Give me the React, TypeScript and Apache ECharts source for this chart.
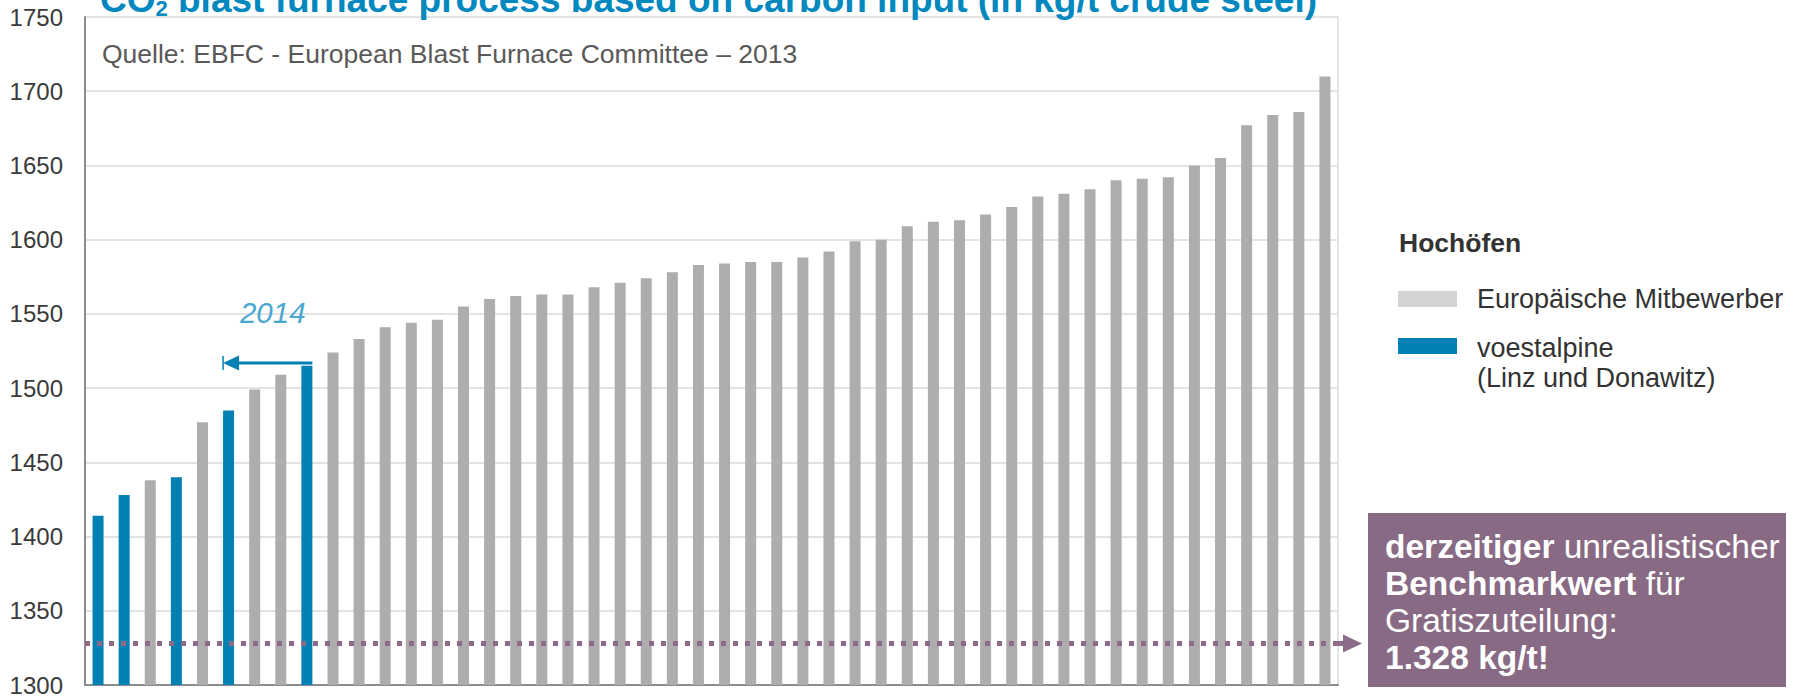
import React, { useEffect, useRef } from 'react';
import * as echarts from 'echarts';

const furnaces = ['1','2','3','4','5','6','7','8','9','10','11','12','13','14','15','16','17','18','19','20','21','22','23','24','25','26','27','28','29','30','31','32','33','34','35','36','37','38','39','40','41','42','43','44','45','46','47','48'];
const co2Values = [1414,1428,1438,1440,1477,1485,1499,1509,1515,1524,1533,1541,1544,1546,1555,1560,1562,1563,1563,1568,1571,1574,1578,1583,1584,1585,1585,1588,1592,1599,1600,1609,1612,1613,1617,1622,1629,1631,1634,1640,1641,1642,1650,1655,1677,1684,1686,1710];
const voestalpineIdx = [0, 1, 3, 5, 8];
const benchmark = 1328;
const arrowFromIdx = 8;
const arrowToIdx = 5;
const arrowLevel = 1517;
const labelLevel = 1551;
const yTicks = { min: 1300, max: 1750, interval: 50 };

const FONT = 'Liberation Sans, Arial, sans-serif';
const GRAY = '#adadad';
const BLUE = '#0080b3';
const PURPLE = '#886a84';
const BAR_W = 11;

export default function App() {
  const ref = useRef<HTMLDivElement>(null);
  useEffect(() => {
    document.body.style.margin = '0';
    const chart = echarts.init(ref.current!, null, { renderer: 'svg' });
    const option: any = {
      animation: false,
      grid: { left: 85, right: 457, top: 17, bottom: 11, show: true, borderColor: '#e3e3e3', borderWidth: 2 },
      xAxis: {
        type: 'category', data: furnaces,
        axisLine: { lineStyle: { color: '#8c8c8c', width: 2 } },
        axisTick: { show: false }, axisLabel: { show: false }, splitLine: { show: false },
      },
      yAxis: {
        type: 'value', min: yTicks.min, max: yTicks.max, interval: yTicks.interval,
        axisLine: { show: true, lineStyle: { color: '#8c8c8c', width: 2 } },
        axisTick: { show: false },
        axisLabel: { fontSize: 24, color: '#3a3a3a', margin: 22, fontFamily: FONT, formatter: (v: number) => String(v) },
        splitLine: { lineStyle: { color: '#e3e3e3', width: 2 } },
      },
      series: [{
        type: 'bar', barWidth: BAR_W,
        data: co2Values.map((v, i) => ({
          value: v,
          itemStyle: { color: voestalpineIdx.includes(i) ? BLUE : GRAY },
        })),
        markLine: {
          silent: true, symbol: 'none', label: { show: false },
          lineStyle: { color: '#8b6b87', width: 5, type: [5, 7] },
          data: [{ yAxis: benchmark }],
        },
      }],
    };
    chart.setOption(option);

    const yB = chart.convertToPixel({ yAxisIndex: 0 }, benchmark);
    const xRight = chart.convertToPixel({ xAxisIndex: 0 }, furnaces[arrowFromIdx]) + BAR_W / 2;
    const xLeft = chart.convertToPixel({ xAxisIndex: 0 }, furnaces[arrowToIdx]) - BAR_W / 2;
    const yA = chart.convertToPixel({ yAxisIndex: 0 }, arrowLevel);
    const yL = chart.convertToPixel({ yAxisIndex: 0 }, labelLevel);
    const gridRight = 1795 - 457;

    chart.setOption({
      graphic: [
        {
          type: 'text', x: 100, y: -21, z: 10,
          style: {
            text: '{a|CO}{s|2}{a| blast furnace process based on carbon input (in kg/t crude steel)}',
            rich: {
              a: { fontSize: 37, fontWeight: 'bold', fill: '#0088bf', fontFamily: FONT, lineHeight: 40 },
              s: { fontSize: 22, fontWeight: 'bold', fill: '#0088bf', fontFamily: FONT, verticalAlign: 'bottom' },
            },
          },
        },
        {
          type: 'text', x: 102, y: 54,
          style: { text: 'Quelle: EBFC - European Blast Furnace Committee – 2013', fontSize: 26.5, fill: '#595959', fontFamily: FONT, verticalAlign: 'middle' },
        },
        {
          type: 'text', x: 1399, y: 243,
          style: { text: 'Hochöfen', fontSize: 26.5, fontWeight: 'bold', fill: '#333333', fontFamily: FONT, verticalAlign: 'middle' },
        },
        { type: 'rect', shape: { x: 1398, y: 291, width: 59, height: 16 }, style: { fill: '#d4d4d4' } },
        {
          type: 'text', x: 1477, y: 299,
          style: { text: 'Europäische Mitbewerber', fontSize: 27, fill: '#333333', fontFamily: FONT, verticalAlign: 'middle' },
        },
        { type: 'rect', shape: { x: 1398, y: 338, width: 59, height: 16 }, style: { fill: BLUE } },
        {
          type: 'text', x: 1477, y: 333,
          style: { text: 'voestalpine\n(Linz und Donawitz)', fontSize: 27, lineHeight: 30, fill: '#333333', fontFamily: FONT, verticalAlign: 'top' },
        },
        { type: 'rect', shape: { x: 1368, y: 513, width: 418, height: 174 }, style: { fill: PURPLE } },
        {
          type: 'text', x: 1385, y: 528,
          style: {
            text: '{b|derzeitiger}{r| unrealistischer}\n{b|Benchmarkwert}{r| für}\n{r|Gratiszuteilung:}\n{b|1.328 kg/t!}',
            rich: {
              b: { fontSize: 33.5, fontWeight: 'bold', fill: '#ffffff', fontFamily: FONT, lineHeight: 37 },
              r: { fontSize: 33.5, fill: '#ffffff', fontFamily: FONT, lineHeight: 37 },
            },
          },
        },
        {
          type: 'line', shape: { x1: gridRight, y1: yB, x2: 1343, y2: yB },
          style: { stroke: '#8b6b87', lineWidth: 5, lineDash: [5, 7] },
        },
        {
          type: 'polygon', shape: { points: [[1343, yB - 9], [1362, yB], [1343, yB + 9]] },
          style: { fill: '#8b6b87' },
        },
        {
          type: 'line', shape: { x1: xRight, y1: yA, x2: xLeft + 14, y2: yA },
          style: { stroke: BLUE, lineWidth: 3 },
        },
        {
          type: 'polygon', shape: { points: [[xLeft, yA], [xLeft + 16, yA - 7.5], [xLeft + 16, yA + 7.5]] },
          style: { fill: BLUE },
        },
        {
          type: 'line', shape: { x1: xLeft, y1: yA - 7, x2: xLeft, y2: yA + 7 },
          style: { stroke: BLUE, lineWidth: 1.5 },
        },
        {
          type: 'text', x: (xLeft + xRight) / 2 + 5, y: yL,
          style: { text: '2014', fontSize: 29.5, fontStyle: 'italic', fill: '#4aa7cf', fontFamily: FONT, align: 'center', verticalAlign: 'middle' },
        },
      ],
    });
    return () => chart.dispose();
  }, []);
  return <div ref={ref} style={{ width: 1795, height: 697 }} />;
}
